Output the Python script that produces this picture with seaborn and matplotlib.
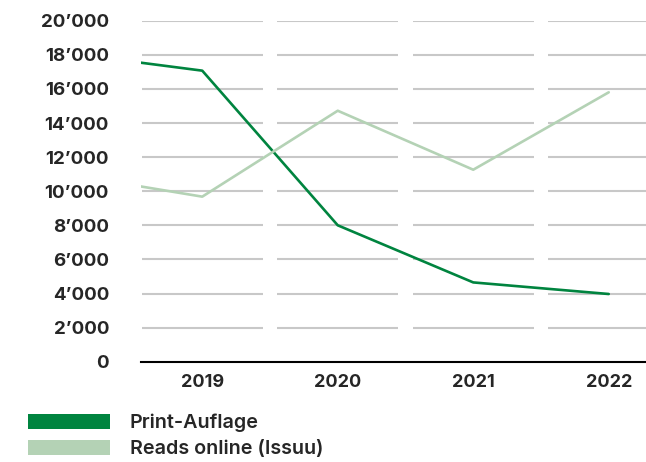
import matplotlib
matplotlib.use("Agg")
import matplotlib.pyplot as plt
import matplotlib.ticker as mticker
from matplotlib.patches import Patch
import seaborn as sns
import pandas as pd

# data (2018 values only show as the clipped start of the lines)
years = [2018, 2019, 2020, 2021, 2022]
print_run = [18100, 17070, 8000, 4650, 3970]
reads_online = [11000, 9680, 14720, 11260, 15800]
series_names = ["Print-Auflage", "Reads online (Issuu)"]
colors = ["#00843f", "#b4d2b5"]
tick_years = [2019, 2020, 2021, 2022]
y_ticks = list(range(0, 20001, 2000))

df = pd.DataFrame({
    "year": years * 2,
    "value": print_run + reads_online,
    "series": [series_names[0]] * len(years) + [series_names[1]] * len(years),
})

sns.set_style("white")
plt.rcParams['font.family'] = ['Inter', 'DejaVu Sans']

fig = plt.figure(figsize=(6.46, 4.62), dpi=100)
ax = fig.add_axes([141 / 646, 100.3 / 462, 1 - 141 / 646, 341 / 462])

# segmented grid lines, one piece per year band
gap = 0.052
for yv in y_ticks[1:]:
    for yr in tick_years:
        ax.hlines(yv, yr - 0.5 + gap, yr + 0.5 - gap, color="#c8c8c8", lw=1.5,
                  zorder=1, clip_on=True)

sns.lineplot(data=df, x="year", y="value", hue="series", palette=colors,
             linewidth=1.9, legend=False, ax=ax, zorder=3)

ax.set_xlim(2018.548, 2022.275)
ax.set_ylim(0, 20000)
for s in ["top", "right", "left"]:
    ax.spines[s].set_visible(False)
ax.spines["bottom"].set_color("black")
ax.spines["bottom"].set_linewidth(1.5)
ax.grid(False)

ax.set_xticks(tick_years)
ax.set_xticklabels([str(y) for y in tick_years], fontsize=13, fontweight="bold")
ax.set_yticks(y_ticks)
ax.yaxis.set_major_formatter(mticker.FuncFormatter(
    lambda v, p: f"{int(v):,}".replace(",", "\u2019")))
for lbl in ax.get_yticklabels():
    lbl.set_fontsize(13.5)
    lbl.set_fontweight("bold")
ax.tick_params(axis="x", length=0, pad=9)
ax.tick_params(axis="y", length=0, pad=23)
ax.set_xlabel("")
ax.set_ylabel("")

handles = [Patch(facecolor=c, edgecolor="none") for c in colors]
fig.legend(handles, series_names, loc="upper left", bbox_to_anchor=(28 / 646, 1 - 414 / 462),
           frameon=False, handlelength=4.15, handleheight=0.76,
           handletextpad=1.0, labelspacing=0.38, borderpad=0, borderaxespad=0,
           prop={"size": 14.2, "weight": "semibold"})

fig.savefig("out.png", dpi=100)
